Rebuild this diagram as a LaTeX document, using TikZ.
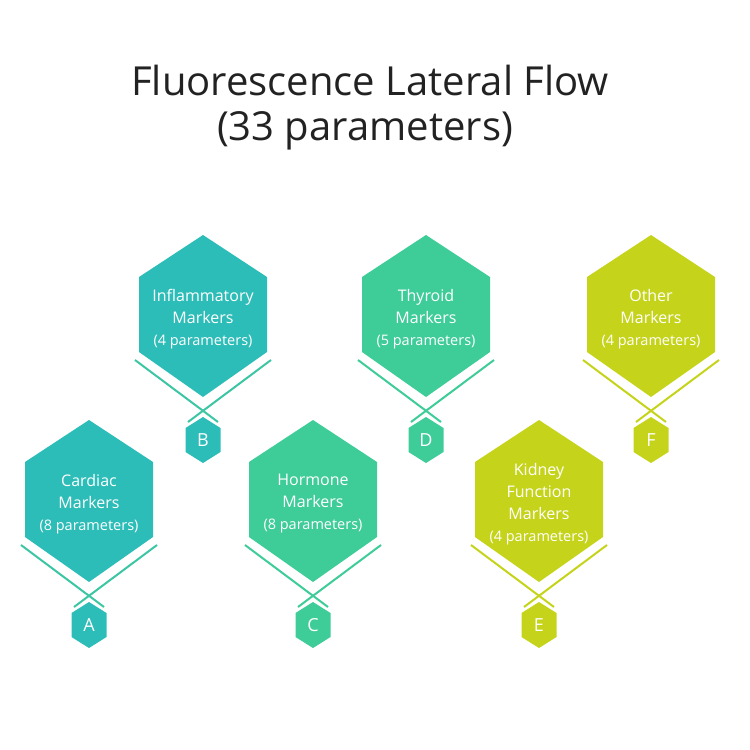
\documentclass[tikz,border=0pt]{standalone}
\usepackage{fontspec}
\setmainfont{Open Sans}
\usetikzlibrary{positioning}

\definecolor{markteal}{HTML}{2DBDB8}
\definecolor{lineteal}{HTML}{3CC6A3}
\definecolor{markgreen}{HTML}{3ECC98}
\definecolor{marklime}{HTML}{C5D41A}
\definecolor{titlegray}{HTML}{222222}

\begin{document}
\begin{tikzpicture}[x=1pt,y=-1pt,
  hexlabel/.style={text=white,align=center,
    font=\fontsize{16}{22}\selectfont},
  taglabel/.style={text=white,font=\fontsize{18}{20}\selectfont},
  crossline/.style={line width=2pt}]

  \useasboundingbox (0,0) rectangle (750,750);

  % Titel
  \node[anchor=base,text=titlegray,font=\fontsize{40}{48}\selectfont]
    (title) at (370,95) {Fluorescence Lateral Flow};
  \node[anchor=base,text=titlegray,font=\fontsize{40}{48}\selectfont]
    (count) at (365,140) {(33 parameters)};

  % Sechsecke mit Kreuz und Buchstabe
  \foreach \cx/\top/\hexcol/\linecol/\tag/\txt/\num in {
      89/420/markteal/lineteal/A/{Cardiac\\Markers}/8,
      203/235/markteal/lineteal/B/{Inflammatory\\Markers}/4,
      313/420/markgreen/markgreen/C/{Hormone\\Markers}/8,
      426/235/markgreen/markgreen/D/{Thyroid\\Markers}/5,
      539/420/marklime/marklime/E/{Kidney\\Function\\Markers}/4,
      651/235/marklime/marklime/F/{Other\\Markers}/4} {

    \fill[\hexcol] (\cx,\top) -- ++(64,42) -- ++(0,75)
      -- ++(-64,45) -- ++(-64,-45) -- ++(0,-75) -- cycle;
    \node[hexlabel] (hex\tag) at (\cx,\top+84)
      {\txt\\{\fontsize{14.5}{22}\selectfont(\num\ parameters)}};

    \draw[crossline,\linecol] (\cx-68,\top+125) -- (\cx+15,\top+187);
    \draw[crossline,\linecol] (\cx+68,\top+125) -- (\cx-15,\top+187);

    \fill[\hexcol] (\cx,\top+182) -- ++(17.5,11) -- ++(0,24)
      -- ++(-17.5,11) -- ++(-17.5,-11) -- ++(0,-24) -- cycle;
    \node[taglabel] (tag\tag) at (\cx,\top+205) {\tag};
  }

\end{tikzpicture}
\end{document}
